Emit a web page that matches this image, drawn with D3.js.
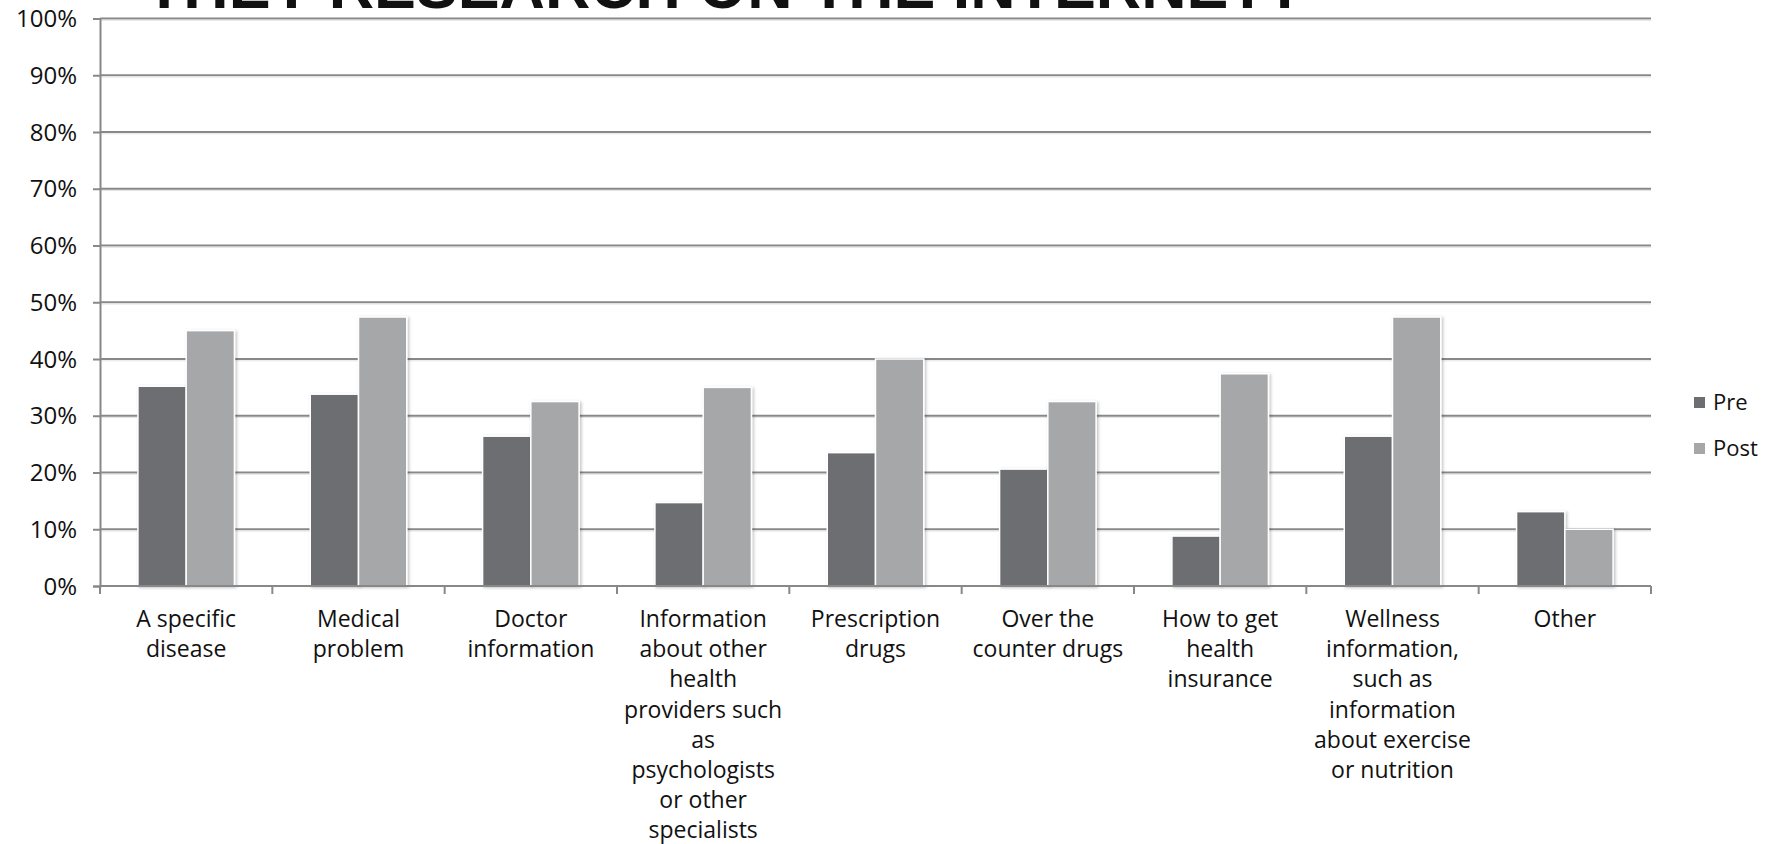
<!DOCTYPE html>
<html>
<head>
<meta charset="utf-8">
<script src="https://cdn.jsdelivr.net/npm/d3@7"></script>
<style>
  html, body { margin: 0; padding: 0; background: #fff; }
  svg { display: block; }
  text { font-family: "Open Sans", "Liberation Sans", sans-serif; fill: #111; }
</style>
</head>
<body>
<svg id="chart" width="1779" height="844"></svg>
<script>
const titleText = "THEY RESEARCH ON THE INTERNET?";
const categories = [
  "A specific\ndisease",
  "Medical\nproblem",
  "Doctor\ninformation",
  "Information\nabout other\nhealth\nproviders such\nas\npsychologists\nor other\nspecialists",
  "Prescription\ndrugs",
  "Over the\ncounter drugs",
  "How to get\nhealth\ninsurance",
  "Wellness\ninformation,\nsuch as\ninformation\nabout exercise\nor nutrition",
  "Other"
];
const seriesNames = ["Pre", "Post"];
const preValues  = [35.2, 33.8, 26.4, 14.7, 23.5, 20.6, 8.8, 26.4, 13.1];
const postValues = [45.0, 47.4, 32.5, 35.0, 40.0, 32.5, 37.4, 47.4, 10.0];
const yTickValues = [0, 10, 20, 30, 40, 50, 60, 70, 80, 90, 100];
const seriesColors = ["#6d6e71", "#a6a7a9"];

(function () {
const svg = d3.select("#chart");
const mLeft = 100, mRight = 1651, mTop = 18.5, mBottom = 586;

const x0 = d3.scaleBand().domain(categories).range([mLeft, mRight]).padding(0);
const bw = x0.bandwidth();
const x1 = d3.scaleBand().domain(seriesNames).range([bw * 0.22, bw * 0.78]).padding(0);
const y = d3.scaleLinear().domain([0, 100]).range([mBottom, mTop]);
const color = d3.scaleOrdinal().domain(seriesNames).range(seriesColors);

const defs = svg.append("defs");
const f = defs.append("filter").attr("id", "shadow").attr("x", "-20%").attr("y", "-20%").attr("width", "140%").attr("height", "140%");
f.append("feDropShadow").attr("dx", 1.5).attr("dy", 1).attr("stdDeviation", 1.5).attr("flood-color", "#000").attr("flood-opacity", 0.25);

// Title (cut off at top)
svg.append("text")
  .attr("x", 145).attr("y", 8)
  .attr("textLength", 1160).attr("lengthAdjust", "spacingAndGlyphs")
  .style("font-family", "'Liberation Sans', Arial, sans-serif")
  .style("font-weight", "bold")
  .style("font-size", "64px")
  .text(titleText);

// Gridlines
const gridVals = yTickValues.filter(d => d > 0);
svg.append("g").selectAll("line").data(gridVals).join("line")
  .attr("x1", mLeft).attr("x2", mRight)
  .attr("y1", d => y(d)).attr("y2", d => y(d))
  .attr("stroke", "#888").attr("stroke-width", 2);
svg.append("g").selectAll("line").data(gridVals).join("line")
  .attr("x1", mLeft).attr("x2", mRight)
  .attr("y1", d => y(d) + 1.8).attr("y2", d => y(d) + 1.8)
  .attr("stroke", "#e4e4e4").attr("stroke-width", 1);

// Y axis
const yAxis = d3.axisLeft(y).tickValues(yTickValues).tickFormat(d => d + "%").tickSize(7).tickPadding(16);
const gy = svg.append("g").attr("transform", `translate(${mLeft},0)`).call(yAxis);
gy.select(".domain").attr("stroke", "#888").attr("stroke-width", 2);
gy.selectAll(".tick line").attr("stroke", "#888").attr("stroke-width", 2);
gy.selectAll(".tick text").style("font-size", "24px").style("font-family", "'Open Sans', sans-serif").attr("fill", "#111").attr("dy", "0.34em");

// Bars
const data = categories.map((c, i) => ({ cat: c, values: [
  { key: "Pre", value: preValues[i] },
  { key: "Post", value: postValues[i] }
]}));
const groups = svg.append("g").selectAll("g").data(data).join("g")
  .attr("transform", d => `translate(${x0(d.cat)},0)`);
groups.selectAll("rect").data(d => d.values).join("rect")
  .attr("x", d => x1(d.key))
  .attr("y", d => y(d.value))
  .attr("width", x1.bandwidth())
  .attr("height", d => y(0) - y(d.value))
  .attr("fill", d => color(d.key))
  .attr("stroke", "#fff").attr("stroke-width", 1.5)
  .attr("filter", "url(#shadow)");

// X axis
const gx = svg.append("g");
gx.append("line").attr("x1", mLeft).attr("x2", mRight).attr("y1", y(0)).attr("y2", y(0))
  .attr("stroke", "#888").attr("stroke-width", 2);
const boundaries = categories.map(c => x0(c)).concat([x0.range()[1]]);
gx.selectAll("line.tk").data(boundaries).join("line").attr("class", "tk")
  .attr("x1", d => d).attr("x2", d => d).attr("y1", y(0)).attr("y2", y(0) + 8)
  .attr("stroke", "#888").attr("stroke-width", 2);
const labels = gx.selectAll("text.cl").data(categories).join("text").attr("class", "cl")
  .attr("text-anchor", "middle")
  .attr("transform", d => `translate(${x0(d) + bw / 2},627)`)
  .style("font-size", "23px");
labels.selectAll("tspan").data(d => d.split("\n")).join("tspan")
  .attr("x", 0).attr("y", (d, i) => i * 30.2).text(d => d);

// Legend
const legend = svg.append("g").selectAll("g").data(seriesNames).join("g")
  .attr("transform", (d, i) => `translate(1694,${397 + i * 46})`);
legend.append("rect").attr("width", 11).attr("height", 11).attr("fill", d => color(d));
legend.append("text").attr("x", 19).attr("y", 13).style("font-size", "22px").text(d => d);
})();
</script>
</body>
</html>
